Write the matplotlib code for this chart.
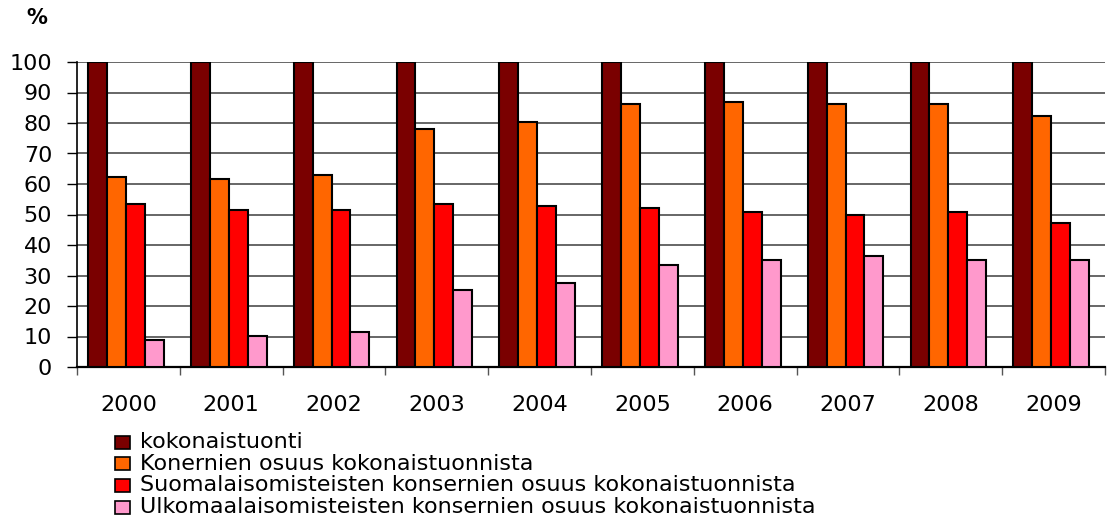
import numpy as np
import matplotlib.pyplot as plt
from matplotlib.patches import Rectangle

plt.rcParams['font.family'] = ['DejaVu Sans']

years = ['2000', '2001', '2002', '2003', '2004', '2005', '2006', '2007', '2008', '2009']
kokonais = [100, 100, 100, 100, 100, 100, 100, 100, 100, 100]
konsernit = [62.3, 61.6, 63.0, 77.9, 80.4, 86.1, 86.8, 86.1, 86.1, 82.3]
suomalais = [53.4, 51.5, 51.5, 53.4, 52.9, 52.2, 50.9, 49.7, 50.9, 47.2]
ulkomaal = [8.9, 10.2, 11.4, 25.2, 27.6, 33.3, 35.1, 36.4, 35.1, 35.1]

labels = ['kokonaistuonti',
          'Konernien osuus kokonaistuonnista',
          'Suomalaisomisteisten konsernien osuus kokonaistuonnista',
          'Ulkomaalaisomisteisten konsernien osuus kokonaistuonnista']
colors = ['#7a0000', '#ff6600', '#ff0000', '#ff99cc']
series = [kokonais, konsernit, suomalais, ulkomaal]

W, H = 1119, 522
fig = plt.figure(figsize=(W / 100, H / 100), dpi=100)
ax = fig.add_axes([77 / W, 1 - 367 / H, (1105 - 77) / W, (367 - 62) / H])

x = np.arange(len(years))
w = 0.184
for i, vals in enumerate(series):
    ax.bar(x - 0.3 + i * w, vals, width=w, color=colors[i],
           edgecolor='black', linewidth=1.5, zorder=3)

ax.set_xlim(-0.5, len(years) - 0.5)
ax.set_ylim(0, 100)
ax.set_yticks(np.arange(0, 101, 10))
ax.yaxis.grid(True, color='#5a5a5a', linewidth=1.3, zorder=0)
ax.tick_params(axis='y', labelsize=16, length=7, width=1, direction='out', pad=11)

ax.set_xticks(np.arange(-0.5, len(years), 1.0))
ax.set_xticklabels([])
ax.tick_params(axis='x', which='major', length=6, width=1, color='#555555', direction='out')
ax.set_xticks(x, minor=True)
ax.set_xticklabels(years, minor=True)
ax.tick_params(axis='x', which='minor', length=0, labelsize=16, pad=20)

for s in ['top', 'right']:
    ax.spines[s].set_visible(False)
ax.spines['left'].set_linewidth(1.2)
ax.spines['bottom'].set_linewidth(1.6)

fig.text(37 / W, 1 - 18 / H, '%', fontsize=15, fontweight='bold', ha='center', va='center')

# legend drawn row by row (tight row spacing like the original)
for i, (lab, c) in enumerate(zip(labels, colors)):
    yc = 442 + i * 21.7
    fig.patches.append(Rectangle((115 / W, 1 - (yc + 6.5) / H), 15 / W, 13 / H,
                                 transform=fig.transFigure, facecolor=c,
                                 edgecolor='black', linewidth=1.2))
    fig.text(140 / W, 1 - yc / H, lab, fontsize=16, va='center', ha='left')

fig.savefig('out.png', dpi=100)
